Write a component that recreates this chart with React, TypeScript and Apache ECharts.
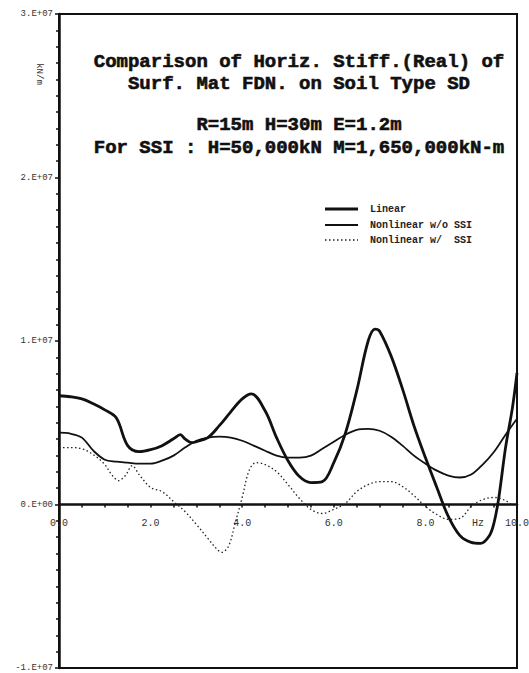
import React, { useEffect, useRef } from "react";
import * as echarts from "echarts";

// Frequency (Hz) and stiffness (x 1e6 kN/m)
const linearFreq = [0, 0.25, 0.5, 0.75, 1.0, 1.25, 1.5, 1.75, 2.0, 2.25, 2.5, 2.65, 2.75, 2.9, 3.0, 3.25, 3.5, 3.75, 4.0, 4.2, 4.5, 4.75, 5.0, 5.25, 5.5, 5.75, 6.0, 6.25, 6.5, 6.75, 6.9, 7.0, 7.25, 7.5, 7.75, 8.0, 8.25, 8.5, 8.75, 9.0, 9.2, 9.4, 9.5, 9.6, 9.75, 9.9, 10.0];
const linearVal = [6.65, 6.59, 6.46, 6.16, 5.79, 5.3, 3.6, 3.23, 3.35, 3.6, 4.02, 4.27, 4.02, 3.78, 3.84, 4.09, 4.82, 5.67, 6.46, 6.77, 5.73, 4.09, 2.68, 1.71, 1.34, 1.4, 2.56, 4.33, 6.95, 10.0, 10.73, 10.6, 9.09, 7.07, 4.82, 2.87, 1.04, -0.73, -1.89, -2.32, -2.38, -1.89, -1.1, 0.37, 3.48, 5.91, 8.05];

const noSsiFreq = [0, 0.25, 0.5, 0.75, 1.0, 1.25, 1.5, 1.75, 2.0, 2.25, 2.5, 2.75, 3.0, 3.25, 3.5, 3.75, 4.0, 4.25, 4.5, 4.75, 5.0, 5.25, 5.5, 5.75, 6.0, 6.25, 6.5, 6.75, 7.0, 7.25, 7.5, 7.75, 8.0, 8.25, 8.5, 8.75, 9.0, 9.25, 9.5, 9.75, 10.0];
const noSsiVal = [4.39, 4.33, 4.09, 3.29, 2.74, 2.62, 2.56, 2.5, 2.5, 2.68, 2.99, 3.48, 3.9, 4.09, 4.15, 4.09, 3.9, 3.6, 3.29, 2.99, 2.87, 2.87, 2.99, 3.41, 3.84, 4.27, 4.57, 4.63, 4.51, 4.15, 3.6, 2.99, 2.5, 2.07, 1.77, 1.65, 1.83, 2.44, 3.23, 4.27, 5.24];

const ssiFreq = [0, 0.25, 0.5, 0.75, 1.0, 1.15, 1.3, 1.45, 1.6, 1.75, 2.0, 2.25, 2.5, 2.75, 3.0, 3.25, 3.45, 3.55, 3.7, 3.85, 4.0, 4.15, 4.3, 4.5, 4.75, 5.0, 5.25, 5.5, 5.75, 6.0, 6.25, 6.5, 6.75, 7.0, 7.25, 7.5, 7.75, 8.0, 8.25, 8.5, 8.75, 9.0, 9.25, 9.5, 9.75, 9.9];
const ssiVal = [3.48, 3.48, 3.41, 3.05, 2.44, 1.83, 1.46, 1.77, 2.38, 1.83, 1.04, 0.79, 0.18, -0.43, -1.22, -2.07, -2.74, -2.93, -2.56, -1.1, 0.43, 2.07, 2.56, 2.44, 2.01, 1.22, 0.37, -0.3, -0.55, -0.3, 0.06, 0.79, 1.22, 1.4, 1.4, 1.1, 0.55, -0.12, -0.61, -0.91, -0.85, -0.12, 0.3, 0.43, 0.24, -0.06];

const seriesNames = ["Linear", "Nonlinear w/o SSI", "Nonlinear w/  SSI"];
const yTickLabels = ["-1.E+07", "0.E+00", "1.E+07", "2.E+07", "3.E+07"];
const xTickLabels = ["0.0", "2.0", "4.0", "6.0", "8.0", "10.0"];
const titleLines = [
  "Comparison of Horiz. Stiff.(Real) of",
  "Surf. Mat FDN. on Soil Type SD",
  "R=15m H=30m E=1.2m",
  "For SSI : H=50,000kN M=1,650,000kN-m",
];

const pair = (xs: number[], ys: number[]) => xs.map((x, i) => [x, ys[i]]);

export default function App() {
  const ref = useRef<HTMLDivElement>(null);
  useEffect(() => {
    if (!ref.current) return;
    const chart = echarts.init(ref.current, undefined, { renderer: "svg" });
    const mono = "Liberation Mono";
    const ink = "#111";
    const titleY = [62, 84, 125, 148];
    const H = 673;
    const gTop = 14, gBottom = 5, gLeft = 59, gRight = 12;
    const plotH = H - gTop - gBottom;
    const zeroOffset = -plotH / 4; // x axis sits on the zero value (range -1e7..3e7)

    const lineStyles = [
      { stroke: ink, lineWidth: 2.8 },
      { stroke: ink, lineWidth: 1.8 },
      { stroke: "#222", lineWidth: 1.3, lineDash: [1.5, 2.5] },
    ];
    const legendY = [209, 225, 240];
    const legendGraphics = seriesNames.flatMap((n, i) => [
      {
        type: "line",
        shape: { x1: 325, y1: legendY[i], x2: 358, y2: legendY[i] },
        style: lineStyles[i],
      },
      {
        type: "text",
        x: 370,
        y: legendY[i],
        style: {
          text: n,
          fontFamily: mono,
          fontSize: 10,
          fontWeight: "bold",
          fill: "#222",
          textAlign: "left",
          textVerticalAlign: "middle",
        },
      },
    ]);

    chart.setOption({
      animation: false,
      backgroundColor: "#fff",
      grid: {
        left: gLeft,
        right: gRight,
        top: gTop,
        bottom: gBottom,
        outerBoundsMode: "none",
        containLabel: false,
        show: true,
        borderColor: ink,
        borderWidth: 2,
        backgroundColor: "transparent",
      },
      xAxis: {
        type: "value",
        min: 0,
        max: 10,
        interval: 2,
        offset: zeroOffset,
        axisLine: { onZero: false, lineStyle: { color: ink, width: 2.5 } },
        axisTick: { show: true, length: 3, lineStyle: { color: ink, width: 1.5 } },
        minorTick: { show: true, splitNumber: 4, length: 3, lineStyle: { color: ink, width: 1.5 } },
        splitLine: { show: false },
        axisLabel: {
          margin: 14,
          fontFamily: mono,
          fontSize: 10,
          color: "#333",
          hideOverlap: false,
          formatter: (v: number) => xTickLabels[Math.round(v / 2)] ?? "",
        },
      },
      yAxis: {
        type: "value",
        min: -10,
        max: 30,
        interval: 10,
        axisLine: { onZero: false, lineStyle: { color: ink, width: 2.5 } },
        axisTick: { show: true, length: 4, lineStyle: { color: ink, width: 1.5 } },
        minorTick: { show: true, splitNumber: 10, length: 3, lineStyle: { color: ink, width: 1.5 } },
        splitLine: { show: false },
        axisLabel: {
          margin: 6,
          fontFamily: mono,
          fontSize: 9,
          color: "#333",
          formatter: (v: number) => yTickLabels[Math.round((v + 10) / 10)] ?? "",
        },
      },
      graphic: [
        ...titleLines.map((t, i) => ({
          type: "text",
          x: 299,
          y: titleY[i],
          style: {
            text: t,
            fontFamily: mono,
            fontWeight: "bold",
            fontSize: 19,
            fill: ink,
            stroke: ink,
            lineWidth: 0.6,
            textAlign: "center",
            textVerticalAlign: "middle",
          },
        })),
        ...legendGraphics,
        {
          type: "text",
          x: 39,
          y: 74,
          rotation: -Math.PI / 2,
          style: { text: "kN/m", fontFamily: mono, fontSize: 9, fill: "#333", textAlign: "center", textVerticalAlign: "middle" },
        },
        {
          type: "text",
          x: 478,
          y: 523,
          style: { text: "Hz", fontFamily: mono, fontSize: 10, fill: "#333", textAlign: "center", textVerticalAlign: "middle" },
        },
      ],
      series: [
        {
          name: seriesNames[0],
          type: "line",
          smooth: 0.35,
          symbol: "none",
          data: pair(linearFreq, linearVal),
          lineStyle: { color: ink, width: 2.8 },
          itemStyle: { color: ink },
        },
        {
          name: seriesNames[1],
          type: "line",
          smooth: 0.35,
          symbol: "none",
          data: pair(noSsiFreq, noSsiVal),
          lineStyle: { color: ink, width: 1.8 },
          itemStyle: { color: ink },
        },
        {
          name: seriesNames[2],
          type: "line",
          smooth: 0.35,
          symbol: "none",
          data: pair(ssiFreq, ssiVal),
          lineStyle: { color: "#222", width: 1.3, type: [1.5, 2.5] },
          itemStyle: { color: "#222" },
        },
      ],
    });
    return () => chart.dispose();
  }, []);
  return (
    <div
      ref={ref}
      style={{ position: "absolute", left: 0, top: 0, width: 529, height: 673, background: "#fff" }}
    />
  );
}
